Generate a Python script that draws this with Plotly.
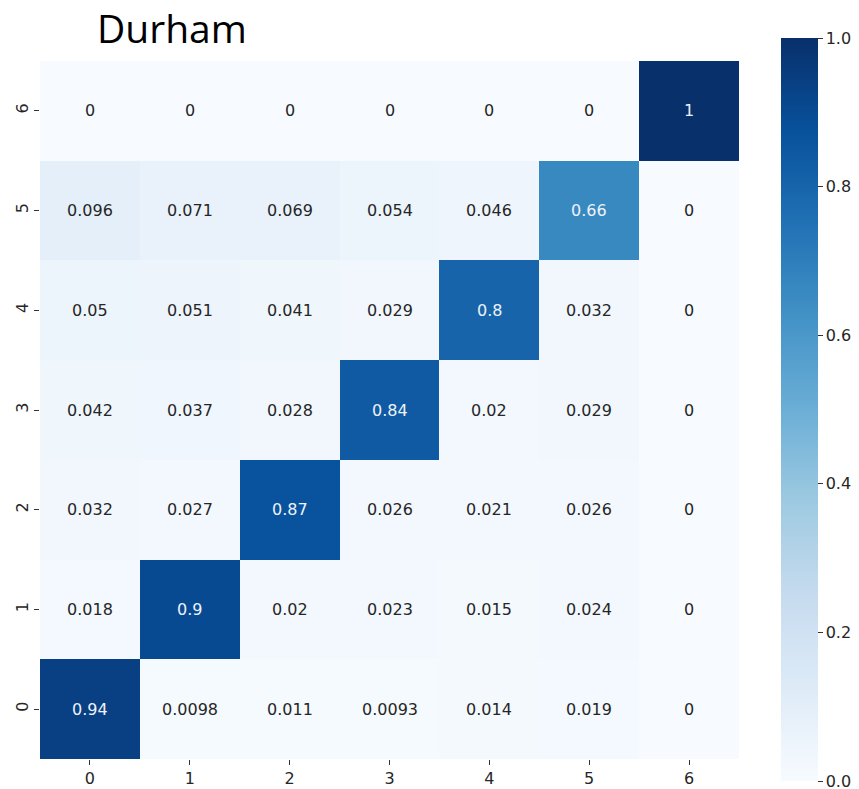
import plotly.graph_objects as go

categories = [0, 1, 2, 3, 4, 5, 6]
tick_labels = ["0", "1", "2", "3", "4", "5", "6"]

# rows ordered from y=0 (bottom) to y=6 (top)
row0 = [0.94, 0.0098, 0.011, 0.0093, 0.014, 0.019, 0]
row1 = [0.018, 0.9, 0.02, 0.023, 0.015, 0.024, 0]
row2 = [0.032, 0.027, 0.87, 0.026, 0.021, 0.026, 0]
row3 = [0.042, 0.037, 0.028, 0.84, 0.02, 0.029, 0]
row4 = [0.05, 0.051, 0.041, 0.029, 0.8, 0.032, 0]
row5 = [0.096, 0.071, 0.069, 0.054, 0.046, 0.66, 0]
row6 = [0, 0, 0, 0, 0, 0, 1]
z = [row0, row1, row2, row3, row4, row5, row6]

colorbar_ticks = [0.0, 0.2, 0.4, 0.6, 0.8, 1.0]

blues = [
    [0.0, "rgb(247,251,255)"],
    [0.125, "rgb(222,235,247)"],
    [0.25, "rgb(198,219,239)"],
    [0.375, "rgb(158,202,225)"],
    [0.5, "rgb(107,174,214)"],
    [0.625, "rgb(66,146,198)"],
    [0.75, "rgb(33,113,181)"],
    [0.875, "rgb(8,81,156)"],
    [1.0, "rgb(8,48,107)"],
]

# the page body adds an 8px offset; compensate so the picture lines up
OFF = 8
W, H = 859 - OFF, 789 - OFF
L, T, B = 40 - OFF, 61 - OFF, 30
PW = 699
R = W - L - PW
PH = H - T - B

fig = go.Figure()
fig.add_trace(go.Heatmap(
    z=z, x=categories, y=categories,
    colorscale=blues, zmin=0, zmax=1,
    xgap=0, ygap=0,
    hoverinfo="skip",
    colorbar=dict(
        thickness=37, thicknessmode="pixels",
        len=743, lenmode="pixels",
        x=(781 - 40) / PW, xanchor="left",
        y=1 - ((38 + 781) / 2 - 61) / PH, yanchor="middle",
        xpad=0, ypad=0, outlinewidth=0,
        tickvals=colorbar_ticks, tickformat=".1f",
        ticks="outside", ticklen=5, tickwidth=1, tickcolor="#333",
        ticklabeloverflow="allow",
        tickfont=dict(family="DejaVu Sans", size=16, color="#262626"),
    ),
))

def fmt(v):
    return f"{v:g}"

annotations = []
for yi, row in zip(categories, z):
    for xi, v in zip(categories, row):
        annotations.append(dict(
            x=xi, y=yi, xref="x", yref="y", text=fmt(v), showarrow=False,
            font=dict(family="DejaVu Sans", size=16,
                      color="#eef2f8" if v > 0.5 else "#262626"),
        ))

annotations.append(dict(
    text="Durham", xref="paper", yref="paper",
    x=(95 - 40) / PW, y=1 + (61 - 28) / PH,
    xanchor="left", yanchor="middle", showarrow=False,
    font=dict(family="Open Sans", size=39, color="black"),
))

fig.update_layout(
    width=W, height=H,
    margin=dict(l=L, r=R, t=T, b=B, autoexpand=False),
    paper_bgcolor="white", plot_bgcolor="white",
    annotations=annotations,
    xaxis=dict(
        range=[-0.5, 6.5], tickvals=categories, ticktext=tick_labels,
        ticks="outside", ticklen=5, tickcolor="#333", showgrid=False,
        zeroline=False, showline=False,
        tickfont=dict(family="DejaVu Sans", size=16, color="#262626"),
    ),
    yaxis=dict(
        range=[-0.5, 6.5], tickvals=categories, ticktext=tick_labels,
        ticks="outside", ticklen=5, tickcolor="#333", showgrid=False,
        zeroline=False, showline=False, tickangle=-90,
        tickfont=dict(family="DejaVu Sans", size=16, color="#262626"),
    ),
)

fig.write_html("out.html")
